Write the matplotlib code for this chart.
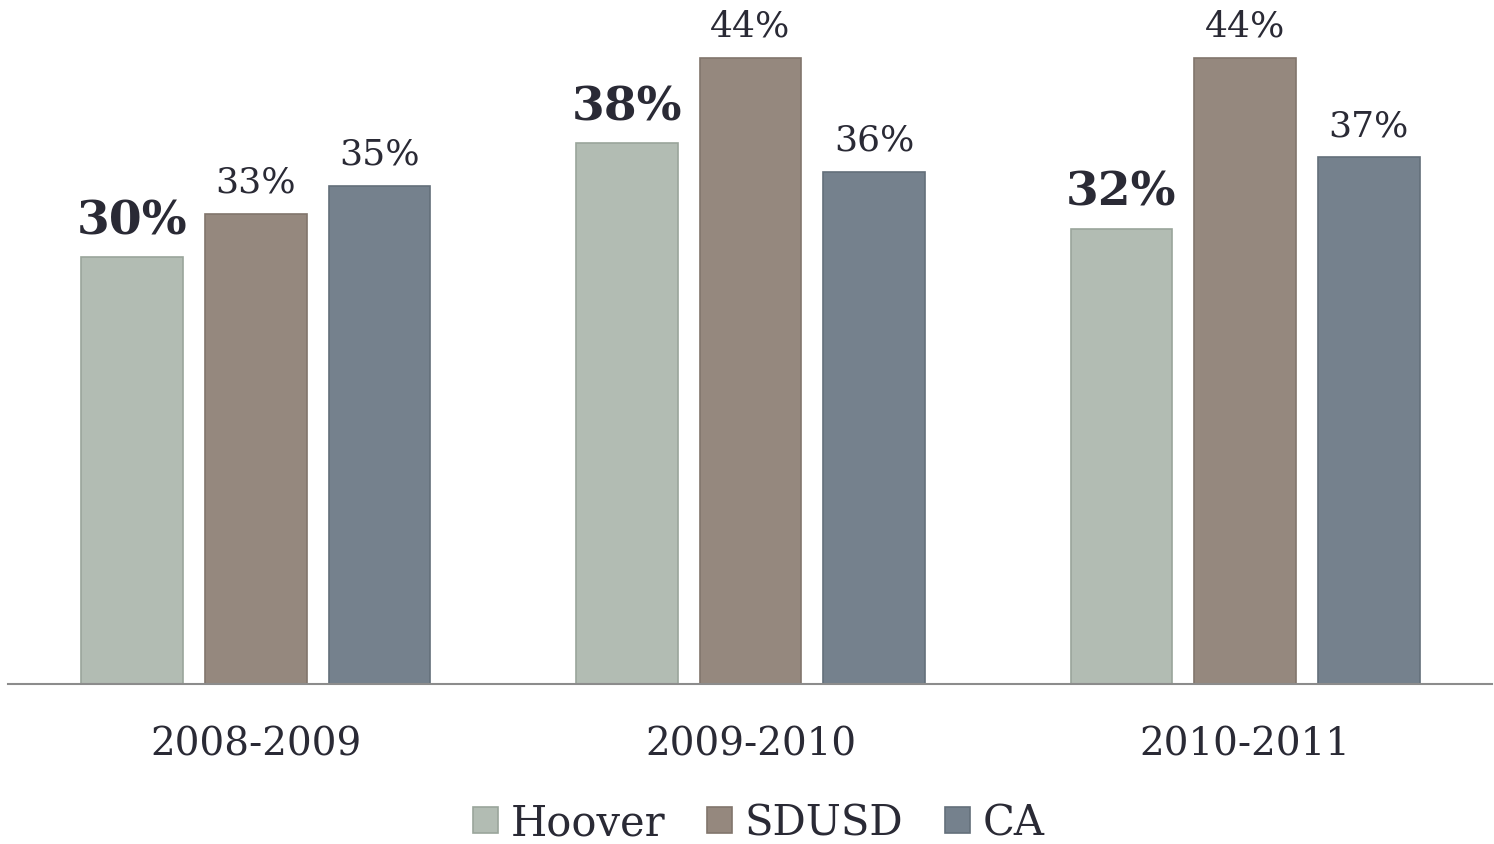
import numpy as np
import matplotlib.pyplot as plt
from matplotlib.patches import Patch

years = ['2008-2009', '2009-2010', '2010-2011']
series = ['Hoover', 'SDUSD', 'CA']
hoover = [30, 38, 32]
sdusd = [33, 44, 44]
ca = [35, 36, 37]

colors = ['#b2bcb3', '#95887e', '#75818d']
edges = ['#9aa59b', '#81756c', '#646f7a']
text_color = '#2a2a35'

plt.rcParams['font.family'] = ['DejaVu Serif']

fig = plt.figure(figsize=(14.94, 8.45), dpi=100)
ax = fig.add_axes([8 / 1494, 160 / 845, 1484 / 1494, 669 / 845])

x = np.arange(len(years))
offset = 0.25
width = 0.205

for i, (vals, name) in enumerate(zip([hoover, sdusd, ca], series)):
    pos = x + (i - 1) * offset
    ax.bar(pos, vals, width=width, color=colors[i], edgecolor=edges[i],
           linewidth=1.2, label=name, zorder=2)
    for px, v in zip(pos, vals):
        if name == 'Hoover':
            ax.annotate(f'{v}%', (px, v), xytext=(0, 10), textcoords='offset points',
                        ha='center', va='bottom', fontsize=34, fontweight='bold',
                        color=text_color, annotation_clip=False)
        else:
            ax.annotate(f'{v}%', (px, v), xytext=(0, 11), textcoords='offset points',
                        ha='center', va='bottom', fontsize=26,
                        color=text_color, annotation_clip=False)

ax.set_xlim(-0.501, 2.499)
ax.set_ylim(0, 47)
ax.set_xticks(x)
ax.set_xticklabels(years, fontsize=28, color=text_color)
ax.tick_params(axis='x', length=0, pad=30)
ax.set_yticks([])
for side in ['top', 'right', 'left']:
    ax.spines[side].set_visible(False)
ax.spines['bottom'].set_color('#8c8c8c')
ax.spines['bottom'].set_linewidth(1.5)

handles = [Patch(facecolor=c, edgecolor=e, linewidth=1.2) for c, e in zip(colors, edges)]
fig.legend(handles, series, loc='center', bbox_to_anchor=(0.508, 0.025),
           ncol=3, frameon=False, fontsize=30, handlelength=0.6, handleheight=0.6,
           handletextpad=0.3, columnspacing=1.0, labelcolor=text_color)

fig.savefig('out.png', dpi=100)
